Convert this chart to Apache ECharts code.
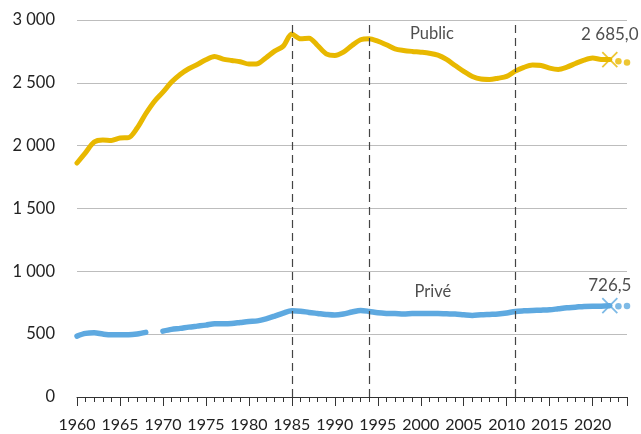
<!DOCTYPE html>
<html><head><meta charset="utf-8">
<script src="https://cdn.jsdelivr.net/npm/echarts@6/dist/echarts.min.js"></script>
<style>html,body{margin:0;padding:0;background:#fff}#c{width:641px;height:434px}</style>
</head><body><div id="c"></div>
<script>
const years = [1960,1961,1962,1963,1964,1965,1966,1967,1968,1969,1970,1971,1972,1973,1974,1975,1976,1977,1978,1979,
  1980,1981,1982,1983,1984,1985,1986,1987,1988,1989,1990,1991,1992,1993,1994,1995,1996,1997,1998,1999,
  2000,2001,2002,2003,2004,2005,2006,2007,2008,2009,2010,2011,2012,2013,2014,2015,2016,2017,2018,2019,
  2020,2021,2022];
const publicValues = [1862,1945,2029,2045,2042,2061,2064,2140,2254,2352,2426,2506,2567,2612,2646,2684,2710,2689,2678,2668,
  2649,2652,2700,2752,2792,2888,2851,2855,2797,2731,2718,2744,2797,2843,2851,2832,2803,2771,2758,2750,
  2744,2736,2720,2686,2638,2591,2551,2530,2527,2537,2551,2593,2623,2641,2638,2617,2607,2625,2654,2681,
  2697,2686,2685.0];
const priveValues = [485,506,511,501,495,495,495,501,514,null,524,538,546,556,564,572,583,583,585,593,
  601,606,622,644,668,686,683,673,665,657,652,660,676,689,681,670,665,664,660,664,
  665,665,665,662,660,654,649,654,657,660,668,681,686,689,691,694,702,710,715,721,
  723,723,726.5];
const projYears = [2023, 2024];
const publicProj = [2672, 2662];
const priveProj = [723, 724];
const lastYear = 2022;
const publicLast = 2685.0;
const priveLast = 726.5;
const reformYears = [1985, 1994, 2011];
const yTicks = [0, 500, 1000, 1500, 2000, 2500, 3000];
const seriesNames = ['Public', 'Privé'];

const FONT = 'Lato';
const YELLOW = '#E8B800';
const BLUE = '#5EA9E0';
const TXT = '#222';

function fmtThousands(v, dec) {
  let s = dec ? v.toFixed(dec) : String(Math.round(v));
  let [i, d] = s.split('.');
  i = i.replace(/\B(?=(\d{3})+(?!\d))/g, ' ');
  return d ? i + ',' + d : i;
}
const pairs = (xs, ys) => xs.map((x, k) => [x, ys[k]]);
const crossPath = 'path://M0,0L10,10M10,0L0,10';

const chart = echarts.init(document.getElementById('c'), null, {renderer: 'canvas'});
chart.setOption({
  animation: false,
  backgroundColor: '#fff',
  grid: {left: 77, right: 14, top: 20, bottom: 37, containLabel: false},
  xAxis: [
    {type: 'value', min: years[0], max: projYears[projYears.length - 1], interval: 1, position: 'bottom',
     axisLine: {show: true, lineStyle: {color: '#333', width: 1}},
     axisTick: {show: true, length: 5, lineStyle: {color: '#333', width: 1}},
     axisLabel: {formatter: v => (v % 5 === 0 && v <= 2020) ? String(v) : '', color: TXT,
                 fontFamily: FONT, fontSize: 16, margin: 20, showMaxLabel: false},
     splitLine: {show: false}},
    {type: 'value', min: years[0], max: projYears[projYears.length - 1], interval: 5, position: 'bottom',
     axisLine: {show: false},
     axisTick: {show: true, length: 9, lineStyle: {color: '#333', width: 1}},
     axisLabel: {show: false}, splitLine: {show: false}}
  ],
  yAxis: {type: 'value', min: yTicks[0], max: yTicks[yTicks.length - 1], interval: 500,
    axisLine: {show: false}, axisTick: {show: false},
    axisLabel: {formatter: v => fmtThousands(v), color: TXT, fontFamily: FONT, fontSize: 16.5, margin: 22},
    splitLine: {lineStyle: {color: '#bdbdbd', width: 1}}},
  series: [
    {type: 'line', data: [], z: 1, silent: true,
     markLine: {silent: true, symbol: 'none', label: {show: false},
       lineStyle: {color: '#444', width: 1.2, type: [8, 5]},
       data: reformYears.map(y => ({xAxis: y}))}},
    {name: seriesNames[0], type: 'line', data: pairs(years, publicValues), smooth: 0.3, showSymbol: false, symbol: 'none',
     lineStyle: {color: YELLOW, width: 5, cap: 'round', join: 'round'}, z: 3},
    {name: seriesNames[1], type: 'line', data: pairs(years, priveValues), smooth: 0.3, showSymbol: false, symbol: 'none',
     connectNulls: false, lineStyle: {color: BLUE, width: 5.5, cap: 'round', join: 'round'}, z: 3},
    {type: 'scatter', data: [[lastYear, publicLast]], symbol: crossPath, symbolSize: 15, z: 4,
     itemStyle: {color: 'rgba(0,0,0,0)', borderColor: YELLOW, borderWidth: 1.8},
     label: {show: true, position: 'top', distance: 8, formatter: p => fmtThousands(p.value[1], 1),
             color: TXT, fontFamily: FONT, fontSize: 17}},
    {type: 'scatter', data: pairs(projYears, publicProj), symbol: 'circle', symbolSize: 6.5, z: 4,
     itemStyle: {color: YELLOW}},
    {type: 'scatter', data: [[lastYear, priveLast]], symbol: crossPath, symbolSize: 15, z: 4,
     itemStyle: {color: 'rgba(0,0,0,0)', borderColor: BLUE, borderWidth: 1.8},
     label: {show: true, position: 'top', distance: 3, formatter: p => fmtThousands(p.value[1], 1),
             color: TXT, fontFamily: FONT, fontSize: 17}},
    {type: 'scatter', data: pairs(projYears, priveProj), symbol: 'circle', symbolSize: 6.5, z: 4,
     itemStyle: {color: BLUE}},
    {type: 'scatter', data: [[2001.3, 2893, seriesNames[0]], [2001.4, 842, seriesNames[1]]], symbolSize: 0, z: 5,
     silent: true, itemStyle: {color: 'rgba(0,0,0,0)'},
     label: {show: true, position: 'inside', formatter: p => p.value[2], color: TXT, fontFamily: FONT, fontSize: 16.5}}
  ]
});
</script>
</body></html>
